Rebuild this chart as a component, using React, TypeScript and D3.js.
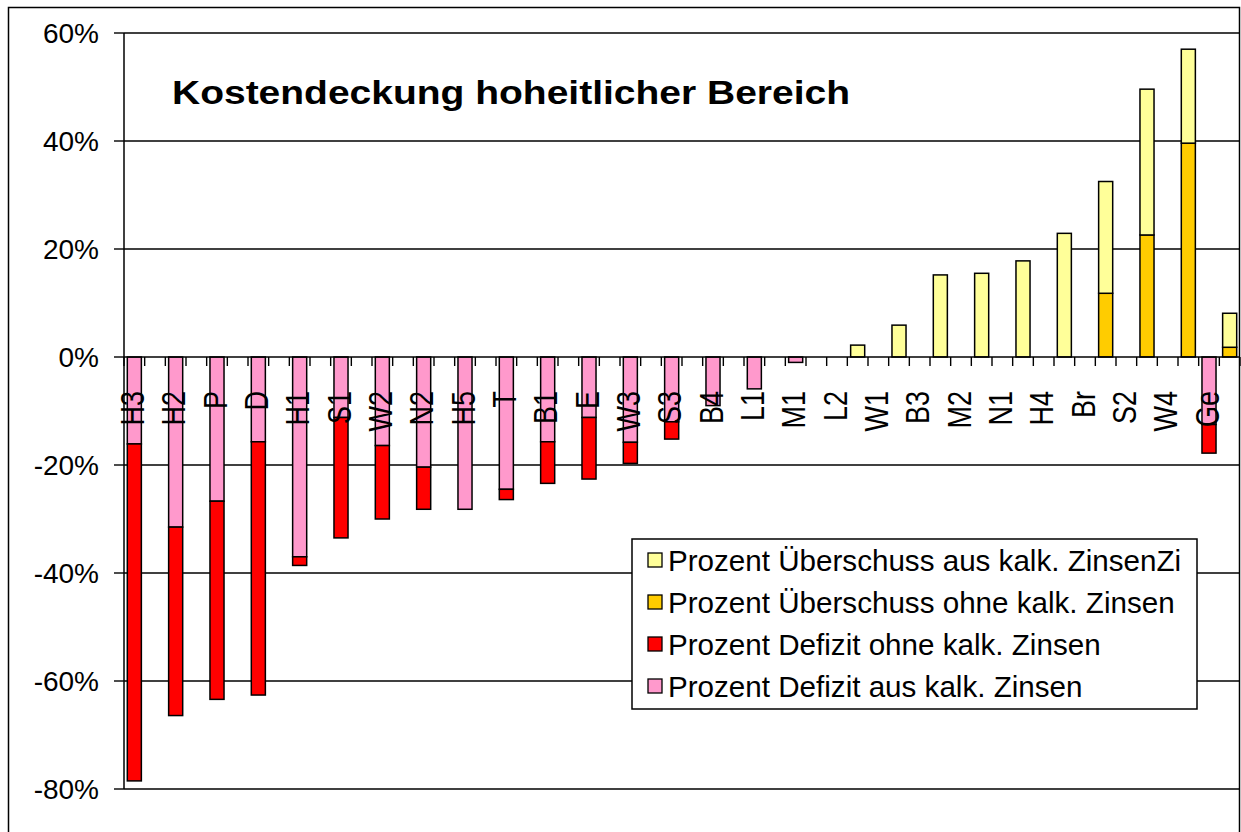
import React from 'react';
import * as d3 from 'd3';

// 54 categories; Excel only printed every second label, the others are not legible
const categories = [
  'H3', '', 'H2', '', 'P', '', 'D', '', 'H1', '', 'S1', '', 'W2', '', 'N2', '', 'H5', '', 'T', '',
  'B1', '', 'E', '', 'W3', '', 'S3', '', 'B4', '', 'L1', '', 'M1', '', 'L2', '', 'W1', '', 'B3', '',
  'M2', '', 'N1', '', 'H4', '', 'Br', '', 'S2', '', 'W4', '', 'Ge', '',
];

// values in percent
const defizitAusZinsen = [
  -16.1, 0, -31.5, 0, -26.7, 0, -15.7, 0, -37.0, 0, -11.2, 0, -16.4, 0, -20.4, 0, -28.2, 0, -24.5, 0,
  -15.7, 0, -11.2, 0, -15.8, 0, -12.0, 0, -9.0, 0, -5.9, 0, -1.0, 0, 0, 0, 0, 0, 0, 0,
  0, 0, 0, 0, 0, 0, 0, 0, 0, 0, 0, 0, -12.5, 0,
];
const defizitOhneZinsen = [
  -62.4, 0, -34.9, 0, -36.7, 0, -46.9, 0, -1.6, 0, -22.3, 0, -13.6, 0, -7.8, 0, 0, 0, -1.9, 0,
  -7.7, 0, -11.4, 0, -3.9, 0, -3.2, 0, 0, 0, 0, 0, 0, 0, 0, 0, 0, 0, 0, 0,
  0, 0, 0, 0, 0, 0, 0, 0, 0, 0, 0, 0, -5.3, 0,
];
const ueberschussOhneZinsen = [
  0, 0, 0, 0, 0, 0, 0, 0, 0, 0, 0, 0, 0, 0, 0, 0, 0, 0, 0, 0,
  0, 0, 0, 0, 0, 0, 0, 0, 0, 0, 0, 0, 0, 0, 0, 0, 0, 0, 0, 0,
  0, 0, 0, 0, 0, 0, 0, 11.8, 0, 22.6, 0, 39.6, 0, 1.8,
];
const ueberschussAusZinsen = [
  0, 0, 0, 0, 0, 0, 0, 0, 0, 0, 0, 0, 0, 0, 0, 0, 0, 0, 0, 0,
  0, 0, 0, 0, 0, 0, 0, 0, 0, 0, 0, 0, 0, 0, 0, 2.2, 0, 5.9, 0, 15.2,
  0, 15.5, 0, 17.8, 0, 22.9, 0, 20.7, 0, 27.0, 0, 17.4, 0, 6.3,
];

const yTicks = [60, 40, 20, 0, -20, -40, -60, -80];

const seriesKeys = ['defAus', 'defOhne', 'uebOhne', 'uebAus'];
const seriesColors: Record<string, string> = {
  defAus: '#ff99cc',
  defOhne: '#ff0000',
  uebOhne: '#ffcc00',
  uebAus: '#ffff99',
};
const legendItems = [
  { key: 'uebAus', label: 'Prozent Überschuss aus kalk. ZinsenZi' },
  { key: 'uebOhne', label: 'Prozent Überschuss ohne kalk. Zinsen' },
  { key: 'defOhne', label: 'Prozent Defizit ohne kalk. Zinsen' },
  { key: 'defAus', label: 'Prozent Defizit aus kalk. Zinsen' },
];

const W = 1241;
const H = 832;
const left = 124;
const right = 1240;
const top = 33;
const bottom = 789;
const font = '"Liberation Sans", Arial, sans-serif';

export default function App() {
  const rows = categories.map((c, i) => ({
    idx: String(i),
    defAus: defizitAusZinsen[i],
    defOhne: defizitOhneZinsen[i],
    uebOhne: ueberschussOhneZinsen[i],
    uebAus: ueberschussAusZinsen[i],
  }));

  const x = d3.scaleBand<string>()
    .domain(rows.map(r => r.idx))
    .range([left, right])
    .paddingInner(0.32)
    .paddingOuter(0.16);
  const edge = d3.scaleLinear().domain([0, categories.length]).range([left, right]);
  const y = d3.scaleLinear().domain([-80, 60]).range([bottom, top]);

  const stacked = d3.stack<any>()
    .keys(seriesKeys)
    .offset(d3.stackOffsetDiverging)(rows);

  const y0 = y(0);

  return (
    <svg width={W} height={H} style={{ position: 'absolute', left: 0, top: 0, background: '#fff' }}
      fontFamily={font}>
      <rect x={8.5} y={7.5} width={1231} height={830} fill="#fff" stroke="#000" strokeWidth={1.5} />

      {yTicks.filter(t => t !== 0).map(t => (
        <line key={t} x1={left} x2={right} y1={y(t)} y2={y(t)} stroke="#000" strokeWidth={1.4} />
      ))}

      {stacked.map(s => (
        <g key={s.key}>
          {s.map((d, i) => {
            const h = Math.abs(y(d[0]) - y(d[1]));
            if (h < 0.01) return null;
            return (
              <rect key={i} x={x(String(i))} width={x.bandwidth()}
                y={Math.min(y(d[0]), y(d[1]))} height={h}
                fill={seriesColors[s.key]} stroke="#000" strokeWidth={1.5} />
            );
          })}
        </g>
      ))}

      {/* category axis on 0 */}
      <line x1={left} x2={right} y1={y0} y2={y0} stroke="#000" strokeWidth={1.5} />
      {d3.range(categories.length + 1).map(k => (
        <line key={k} x1={edge(k)} x2={edge(k)} y1={y0} y2={y0 + 9} stroke="#000" strokeWidth={1.4} />
      ))}
      {categories.map((c, i) => c && (
        <text key={i}
          transform={`translate(${x(String(i))! + x.bandwidth() / 2 + 9.5},391) scale(1.2,1) rotate(-90)`}
          textAnchor="end" fontSize={27} fill="#000">{c}</text>
      ))}

      {/* value axis */}
      <line x1={left} x2={left} y1={top} y2={bottom} stroke="#000" strokeWidth={1.5} />
      {yTicks.map(t => (
        <g key={t}>
          <line x1={114} x2={left} y1={y(t)} y2={y(t)} stroke="#000" strokeWidth={1.4} />
          <text x={99} y={y(t)} dy="0.36em" textAnchor="end" fontSize={28} fill="#000">{t}%</text>
        </g>
      ))}

      <text x={172} y={104} fontSize={33} fontWeight="bold" textLength={678}
        lengthAdjust="spacingAndGlyphs" fill="#000">Kostendeckung hoheitlicher Bereich</text>

      <g>
        <rect x={632} y={539} width={565} height={170} fill="#fff" stroke="#000" strokeWidth={1.5} />
        {legendItems.map((it, i) => {
          const cy = 560 + i * 42;
          return (
            <g key={it.key}>
              <rect x={648} y={cy - 7} width={14} height={14} fill={seriesColors[it.key]} stroke="#000" strokeWidth={1.3} />
              <text x={668} y={cy} dy="0.36em" fontSize={29.6} fill="#000">{it.label}</text>
            </g>
          );
        })}
      </g>
    </svg>
  );
}
